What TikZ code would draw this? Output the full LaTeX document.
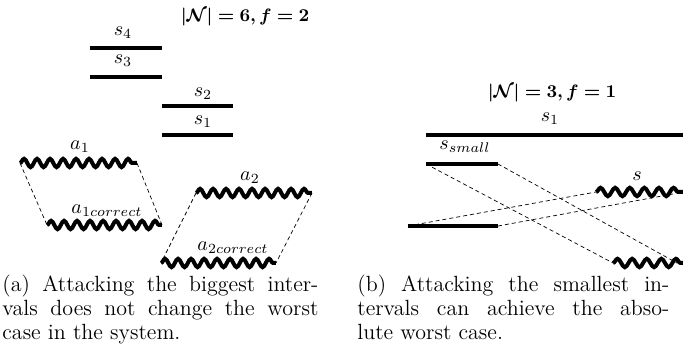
\documentclass[tikz,border=0pt]{standalone}
\usepackage{amsmath,bm}
\usetikzlibrary{decorations.pathmorphing}
\tikzset{
  bar/.style={line width=2pt},
  wave/.style={line width=2pt, decorate, decoration={snake, amplitude=2.1pt, segment length=6.5pt}},
  wavewide/.style={wave, decoration={snake, amplitude=2.1pt, segment length=7.3pt}},
  link/.style={line width=0.35pt, dash pattern=on 2pt off 1.5pt},
  lbl/.style={inner sep=0pt},
  ttl/.style={inner sep=0pt, font=\fontsize{9.5}{11}\selectfont},
  captext/.style={anchor=north west, inner sep=0pt, font=\fontsize{11}{11.8}\selectfont}
}
\begin{document}
\begin{tikzpicture}[x=0.5pt,y=-0.5pt]
\useasboundingbox (0,0) rectangle (693,352);
% ---- (a) ----
\node[ttl] (ta) at (245,17) {$\bm{|\mathcal{N}| = 6, f = 2}$};
\coordinate (s4l) at (90,48);  \coordinate (s4r) at (162,48);
\coordinate (s3l) at (90,77);  \coordinate (s3r) at (162,77);
\coordinate (s2l) at (162,106); \coordinate (s2r) at (233,106);
\coordinate (s1l) at (162,135); \coordinate (s1r) at (233,135);
\draw[bar] (s4l) -- (s4r);
\draw[bar] (s3l) -- (s3r);
\draw[bar] (s2l) -- (s2r);
\draw[bar] (s1l) -- (s1r);
\node[lbl] (ls4) at (123,33) {$s_4$};
\node[lbl] (ls3) at (123,61) {$s_3$};
\node[lbl] (ls2) at (203,94) {$s_2$};
\node[lbl] (ls1) at (203,122) {$s_1$};
\coordinate (a1l) at (20,163);  \coordinate (a1r) at (137,163);
\coordinate (c1l) at (47,225);  \coordinate (c1r) at (162,225);
\coordinate (a2l) at (196,193); \coordinate (a2r) at (312,193);
\coordinate (c2l) at (161,263); \coordinate (c2r) at (276,263);
\draw[wave] (a1l) -- (a1r);
\draw[wave] (c1l) -- (c1r);
\draw[wave] (a2l) -- (a2r);
\draw[wave] (c2l) -- (c2r);
\node[lbl] (la1) at (80,147) {$a_1$};
\node[lbl] (lc1) at (107,211) {$a_{1correct}$};
\node[lbl] (la2) at (250,178) {$a_2$};
\node[lbl] (lc2) at (233,248) {$a_{2correct}$};
\draw[link] (a1l) -- (c1l);
\draw[link] (a1r) -- (c1r);
\draw[link] (a2l) -- (c2l);
\draw[link] (a2r) -- (c2r);
% ---- (b) ----
\node[ttl] (tb) at (552,93) {$\bm{|\mathcal{N}| = 3, f = 1}$};
\coordinate (b1l) at (426,135); \coordinate (b1r) at (683,135);
\coordinate (bsl) at (426,164); \coordinate (bsr) at (498,164);
\coordinate (bbl) at (408,226); \coordinate (bbr) at (498,226);
\coordinate (wsl) at (596,192); \coordinate (wsr) at (683,192);
\coordinate (wbl) at (613,263); \coordinate (wbr) at (683,263);
\draw[bar] (b1l) -- (b1r);
\draw[bar] (bsl) -- (bsr);
\draw[bar] (bbl) -- (bbr);
\draw[wavewide] (wsl) -- (wsr);
\draw[wavewide] (wbl) -- (wbr);
\node[lbl] (lb1) at (550,119) {$s_1$};
\node[lbl] (lbs) at (465,147) {$s_{small}$};
\node[lbl] (lws) at (637,176) {$s$};
\draw[link] (bsl) -- (wbl);
\draw[link] (bsr) -- ([xshift=-3pt]wbr);
\draw[link] (bbl) -- (wsl);
\draw[link] (bbr) -- ([xshift=-5pt,yshift=-1pt]wsr);
% ---- captions ----
\node[captext] (capa) at (2,275) {\parbox{158pt}{(a) Attacking the biggest inter-\linebreak vals does not change the worst\linebreak case in the system.}};
\node[captext] (capb) at (357,275) {\parbox{156pt}{(b) Attacking the smallest in-\linebreak tervals can achieve the abso-\linebreak lute worst case.}};
\end{tikzpicture}
\end{document}
